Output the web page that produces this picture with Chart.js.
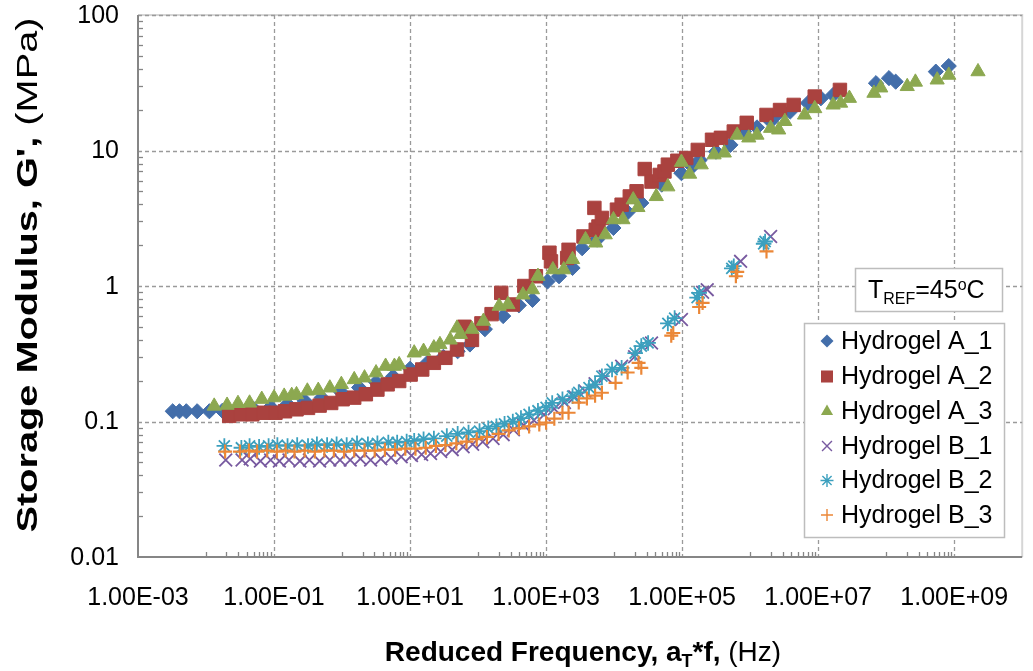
<!DOCTYPE html>
<html><head><meta charset="utf-8">
<script src="https://cdn.jsdelivr.net/npm/chart.js@4.4.0/dist/chart.umd.min.js"></script>
<style>html,body{margin:0;padding:0;background:#fff;}#wrap{width:1033px;height:671px;position:relative;}</style>
</head><body><div id="wrap"><canvas id="c" width="1033" height="671"></canvas></div>
<script>
const seriesNames = ['Hydrogel A_1','Hydrogel A_2','Hydrogel A_3','Hydrogel B_1','Hydrogel B_2','Hydrogel B_3'];

const a1X = [0.00324,0.00407,0.00513,0.00741,0.0112,0.0174,0.0282,0.0501,0.0891,0.158,0.282,0.501,0.977,1.78,3.16,5.62,10,17.8,30.9,50.1,75.9,126,234,398,631,1050,1550,2450,3390,5620,9770,15800,25100,50100,97700,141000,182000,316000,513000,813000,1.26e6,2.0e6,2.45e6,3.89e6,7.08e6,1.1e7,1.66e7,7.08e7,1.1e8,1.38e8,5.37e8,8.32e8];
const a1Y = [0.119,0.119,0.119,0.119,0.119,0.120,0.121,0.124,0.128,0.134,0.142,0.150,0.164,0.178,0.195,0.215,0.245,0.27,0.30,0.33,0.37,0.48,0.60,0.72,0.79,1.08,1.18,1.36,1.9,2.2,2.68,3.5,4.1,5.6,6.8,7.6,8.5,9.8,11.0,13.8,14.8,16.4,18.3,19.4,22.4,24.3,25.7,31.4,34.2,32.2,38.2,42.0];

const a2X = [0.0219,0.0324,0.0479,0.0708,0.105,0.145,0.214,0.316,0.468,0.692,1.02,1.51,2.24,3.31,4.68,6.92,10.2,15.1,22.4,33.1,49,63.1,81.3,112,158,219,324,479,708,1120,1180,2040,2140,3550,5130,5370,5890,6610,11000,12900,17000,21400,28200,35500,46800,55000,61700,85100,115000,170000,275000,372000,575000,891000,1.74e6,2.75e6,4.37e6,8.91e6,2.09e7];
const a2Y = [0.110,0.113,0.113,0.116,0.116,0.119,0.123,0.126,0.131,0.137,0.146,0.150,0.159,0.172,0.188,0.199,0.222,0.242,0.271,0.295,0.34,0.50,0.40,0.53,0.62,0.89,0.73,1.0,1.18,1.76,1.52,1.61,1.85,2.32,3.77,2.6,2.75,3.18,3.66,3.98,4.58,5.0,7.3,5.9,6.6,7.0,7.86,8.4,8.8,10.1,12.0,12.4,13.8,16.0,18.3,19.9,21.7,25.0,28.0];

const a3X = [0.0132,0.0204,0.0295,0.0437,0.066,0.1,0.141,0.182,0.214,0.309,0.447,0.661,0.977,1.51,2.14,3.16,4.37,5.89,6.92,11.5,15.8,22.4,27.5,38.9,49,55,81.3,120,204,275,457,631,759,1260,1820,2450,3800,5370,7410,9770,13500,19100,22400,41700,61700,97700,129000,191000,295000,417000,646000,955000,1.26e6,2.0e6,2.63e6,3.24e6,6.31e6,8.91e6,1.66e7,2.14e7,2.88e7,6.61e7,8.32e7,2.04e8,2.69e8,5.62e8,8.32e8,2.24e9];
const a3Y = [0.130,0.132,0.136,0.137,0.146,0.150,0.154,0.156,0.158,0.168,0.170,0.177,0.188,0.204,0.210,0.229,0.256,0.256,0.263,0.321,0.330,0.350,0.370,0.400,0.49,0.44,0.48,0.55,0.71,0.73,0.86,0.94,1.18,1.32,1.32,1.57,2.2,2.08,2.39,3.09,3.09,4.33,3.8,4.58,5.4,8.2,6.7,7.85,9.3,9.6,13.0,12.4,13.0,14.6,14.2,16.4,18.3,20.4,21.7,22.4,24.3,26.5,29.0,29.7,32.0,33.2,36.0,38.2];

const b1X = [0.0195,0.0339,0.0447,0.0631,0.0891,0.12,0.166,0.24,0.331,0.468,0.661,0.933,1.32,1.86,2.63,3.72,5.25,7.41,10.5,14.8,20,28.2,41.7,60.3,83.2,117,166,234,331,468,661,933,1320,1860,2630,3720,5250,7410,12900,20000,35500,97700,200000,234000,724000,2.0e6];
const b1Y = [0.052,0.052,0.053,0.051,0.052,0.051,0.052,0.051,0.052,0.051,0.052,0.052,0.052,0.053,0.052,0.053,0.054,0.055,0.056,0.057,0.058,0.060,0.062,0.065,0.068,0.071,0.075,0.080,0.087,0.094,0.102,0.112,0.124,0.138,0.152,0.168,0.19,0.215,0.256,0.30,0.38,0.565,0.90,0.94,1.52,2.32];

const b2X = [0.0186,0.0331,0.0437,0.0603,0.0832,0.112,0.158,0.219,0.316,0.427,0.603,0.832,1.17,1.66,2.4,3.31,4.79,6.46,8.91,11.5,15.8,22.4,34.7,50.1,72.4,105,141,186,245,324,427,562,759,1000,1230,1740,2450,3020,4270,5250,6610,9330,12900,20400,25100,31600,61700,77600,166000,178000,537000,575000,1.58e6,1.66e6];
const b2Y = [0.066,0.064,0.066,0.065,0.066,0.067,0.066,0.067,0.066,0.068,0.067,0.068,0.067,0.069,0.068,0.069,0.070,0.070,0.071,0.072,0.074,0.075,0.078,0.081,0.083,0.085,0.089,0.092,0.096,0.100,0.106,0.113,0.120,0.127,0.137,0.146,0.154,0.164,0.178,0.188,0.216,0.242,0.249,0.32,0.36,0.38,0.53,0.58,0.82,0.89,1.35,1.40,2.05,2.13];

const b3X = [0.0191,0.0316,0.0427,0.0562,0.0794,0.11,0.148,0.2,0.282,0.398,0.55,0.759,1.07,1.51,2.14,3.02,4.27,6.03,8.51,12,17,24,33.1,47.9,67.6,95.5,135,200,282,398,562,794,1000,1320,1740,2140,3020,3980,5250,6610,10500,15800,22900,25100,69200,74100,178000,200000,617000,646000,1.74e6];
const b3Y = [0.060,0.060,0.061,0.060,0.061,0.060,0.061,0.060,0.061,0.060,0.061,0.061,0.060,0.061,0.061,0.061,0.062,0.062,0.063,0.063,0.064,0.066,0.067,0.069,0.071,0.074,0.077,0.081,0.086,0.089,0.092,0.095,0.098,0.105,0.116,0.116,0.138,0.148,0.155,0.163,0.193,0.23,0.271,0.249,0.43,0.45,0.70,0.75,1.18,1.27,1.80];

const xTickValues = [1e-3,1e-1,1e1,1e3,1e5,1e7,1e9];
const xTickLabels = ['1.00E-03','1.00E-01','1.00E+01','1.00E+03','1.00E+05','1.00E+07','1.00E+09'];
const yTickValues = [0.01,0.1,1,10,100];
const yTickLabels = ['0.01','0.1','1','10','100'];

const colors = ['#436EAA','#AA423F','#8CA850','#785AA0','#3CA0BE','#EB8737'];
const styles = ['rectRot','rect','triangle','crossRot','star','cross'];
const radii = [7.6,9.5,8.2,9,7.8,7];
const bws = [1,1,1,1.8,1.8,2.2];

const FONT = '"Liberation Sans", Arial, sans-serif';
const pairs = [[a1X,a1Y],[a2X,a2Y],[a3X,a3Y],[b1X,b1Y],[b2X,b2Y],[b3X,b3Y]];

const datasets = pairs.map((p,i)=>({
  label: seriesNames[i],
  data: p[0].map((x,j)=>({x:x,y:p[1][j]})),
  pointStyle: styles[i],
  pointRadius: radii[i],
  pointHoverRadius: radii[i],
  pointBackgroundColor: colors[i],
  pointBorderColor: colors[i],
  pointBorderWidth: bws[i],
  showLine: false,
  order: 6-i
}));

function drawMarker(ctx, style, x, y, r, color, bw){
  ctx.save();
  ctx.fillStyle = color; ctx.strokeStyle = color; ctx.lineWidth = bw;
  ctx.beginPath();
  if(style==='rectRot'){ctx.moveTo(x-r,y);ctx.lineTo(x,y-r);ctx.lineTo(x+r,y);ctx.lineTo(x,y+r);ctx.closePath();ctx.fill();}
  else if(style==='rect'){const s=r*Math.SQRT1_2;ctx.rect(x-s,y-s,2*s,2*s);ctx.fill();}
  else if(style==='triangle'){ctx.moveTo(x,y-r);ctx.lineTo(x+r*0.866,y+r/2);ctx.lineTo(x-r*0.866,y+r/2);ctx.closePath();ctx.fill();}
  else {
    const d=r*Math.SQRT1_2;
    if(style==='cross'||style==='star'){ctx.moveTo(x,y-r);ctx.lineTo(x,y+r);ctx.moveTo(x-r,y);ctx.lineTo(x+r,y);}
    if(style==='crossRot'||style==='star'){ctx.moveTo(x-d,y-d);ctx.lineTo(x+d,y+d);ctx.moveTo(x+d,y-d);ctx.lineTo(x-d,y+d);}
    ctx.stroke();
  }
  ctx.restore();
}

function drawRich(ctx, parts, x, y){
  let cx = x;
  parts.forEach(p=>{
    ctx.font = p.font;
    ctx.fillText(p.t, cx, y + (p.dy||0));
    cx += ctx.measureText(p.t).width;
  });
  return cx;
}
function richWidth(ctx, parts){
  let w=0; parts.forEach(p=>{ctx.font=p.font; w+=ctx.measureText(p.t).width;}); return w;
}

const framePlugin = {
  id:'frame',
  beforeDatasetsDraw(chart){
    const ctx=chart.ctx, ca=chart.chartArea, xs=chart.scales.x, ys=chart.scales.y;
    ctx.save();
    ctx.strokeStyle='#D6D6D6'; ctx.lineWidth=2;
    ctx.beginPath(); ctx.moveTo(ca.left,ca.top); ctx.lineTo(ca.right,ca.top); ctx.lineTo(ca.right,ca.bottom); ctx.stroke();
    ctx.strokeStyle='#9A9A9A'; ctx.lineWidth=1.3; ctx.setLineDash([4,3]);
    xTickValues.forEach((v,i)=>{ if(i===0) return; const px=Math.round(xs.getPixelForValue(v))+0.5;
      ctx.beginPath(); ctx.moveTo(px,ca.top); ctx.lineTo(px,ca.bottom); ctx.stroke(); });
    yTickValues.forEach((v,i)=>{ if(i===0) return; const py=Math.round(ys.getPixelForValue(v))+0.5;
      ctx.beginPath(); ctx.moveTo(ca.left,py); ctx.lineTo(ca.right,py); ctx.stroke(); });
    ctx.setLineDash([]);
    ctx.strokeStyle='#868686'; ctx.lineWidth=1.3;
    for(let k=-2;k<=8;k+=2){
      for(let m=1;m<=9;m++){
        const px=Math.round(xs.getPixelForValue(m*Math.pow(10,k)))+0.5;
        ctx.beginPath(); ctx.moveTo(px,ca.bottom); ctx.lineTo(px,ca.bottom-5); ctx.stroke();
      }
    }
    for(let k=-2;k<=1;k++){
      for(let m=2;m<=9;m++){
        const py=Math.round(ys.getPixelForValue(m*Math.pow(10,k)))+0.5;
        ctx.beginPath(); ctx.moveTo(ca.left,py); ctx.lineTo(ca.left+5,py); ctx.stroke();
      }
    }
    ctx.strokeStyle='#868686'; ctx.lineWidth=2;
    ctx.beginPath(); ctx.moveTo(ca.left,ca.top); ctx.lineTo(ca.left,ca.bottom); ctx.lineTo(ca.right,ca.bottom); ctx.stroke();
    ctx.restore();
  },
  afterDraw(chart){
    const ctx=chart.ctx, ca=chart.chartArea, xs=chart.scales.x, ys=chart.scales.y;
    ctx.save();
    ctx.fillStyle='#000';
    ctx.font='25px '+FONT; ctx.textBaseline='middle';
    ctx.textAlign='right';
    yTickValues.forEach((v,i)=>{ ctx.fillText(yTickLabels[i], 119, ys.getPixelForValue(v)+1); });
    ctx.textAlign='center';
    xTickValues.forEach((v,i)=>{ ctx.fillText(xTickLabels[i], xs.getPixelForValue(v), 598); });
    ctx.textAlign='left'; ctx.textBaseline='alphabetic';
    const B='bold 28px '+FONT, N='28px '+FONT, S='bold 18px '+FONT;
    const xt=[{t:'Reduced Frequency, a',font:B},{t:'T',font:S,dy:6},{t:'*f, ',font:B},{t:'(Hz)',font:N}];
    const xw=richWidth(ctx,xt);
    drawRich(ctx,xt,583-xw/2,661);
    const YB='bold 30px '+FONT, YN='30px '+FONT;
    const yt=[{t:"Storage Modulus, G', ",font:YB},{t:'(MPa)',font:YN}];
    const yw=richWidth(ctx,yt);
    const ysx = 515/yw;
    ctx.save(); ctx.translate(37,275); ctx.rotate(-Math.PI/2); ctx.scale(ysx,1);
    drawRich(ctx,yt,-yw/2,0);
    ctx.restore();
    ctx.fillStyle='#fff'; ctx.strokeStyle='#BDBDBD'; ctx.lineWidth=1.5;
    ctx.fillRect(855,268,148,44); ctx.strokeRect(855.5,268.5,147,43);
    ctx.fillStyle='#000';
    const tf='25px '+FONT, sf='16px '+FONT;
    drawRich(ctx,[{t:'T',font:tf},{t:'REF',font:sf,dy:5.5},{t:'=45',font:tf},{t:'o',font:sf,dy:-8},{t:'C',font:tf}],868,298);
    ctx.fillStyle='#fff';
    ctx.fillRect(804,323,201,215); ctx.strokeRect(804.5,323.5,200,214);
    const rows=[341,376.5,411.5,446,480.5,515];
    ctx.font='25px '+FONT; ctx.textBaseline='middle'; ctx.textAlign='left';
    seriesNames.forEach((n,i)=>{
      const mr = [6.5,8.5,7,7,6.5,6][i];
      drawMarker(ctx, styles[i], 827, rows[i], mr, colors[i], i>=3?1.4:1);
      ctx.fillStyle='#000';
      ctx.fillText(n, 841, rows[i]+1);
    });
    ctx.restore();
  }
};

new Chart(document.getElementById('c'), {
  type:'scatter',
  data:{datasets:datasets},
  options:{
    responsive:false, animation:false, devicePixelRatio:1,
    layout:{padding:{left:0,right:3,top:15,bottom:0}},
    plugins:{legend:{display:false},tooltip:{enabled:false}},
    scales:{
      x:{type:'logarithmic',min:1e-3,max:1e10,
        grid:{display:false,drawTicks:false},border:{display:false},
        ticks:{display:false},
        afterFit(s){ s.height = 114; }},
      y:{type:'logarithmic',min:0.01,max:100,
        grid:{display:false,drawTicks:false},border:{display:false},
        ticks:{display:false},
        afterFit(s){ s.width = 138; }}
    }
  },
  plugins:[framePlugin]
});
</script></body></html>
